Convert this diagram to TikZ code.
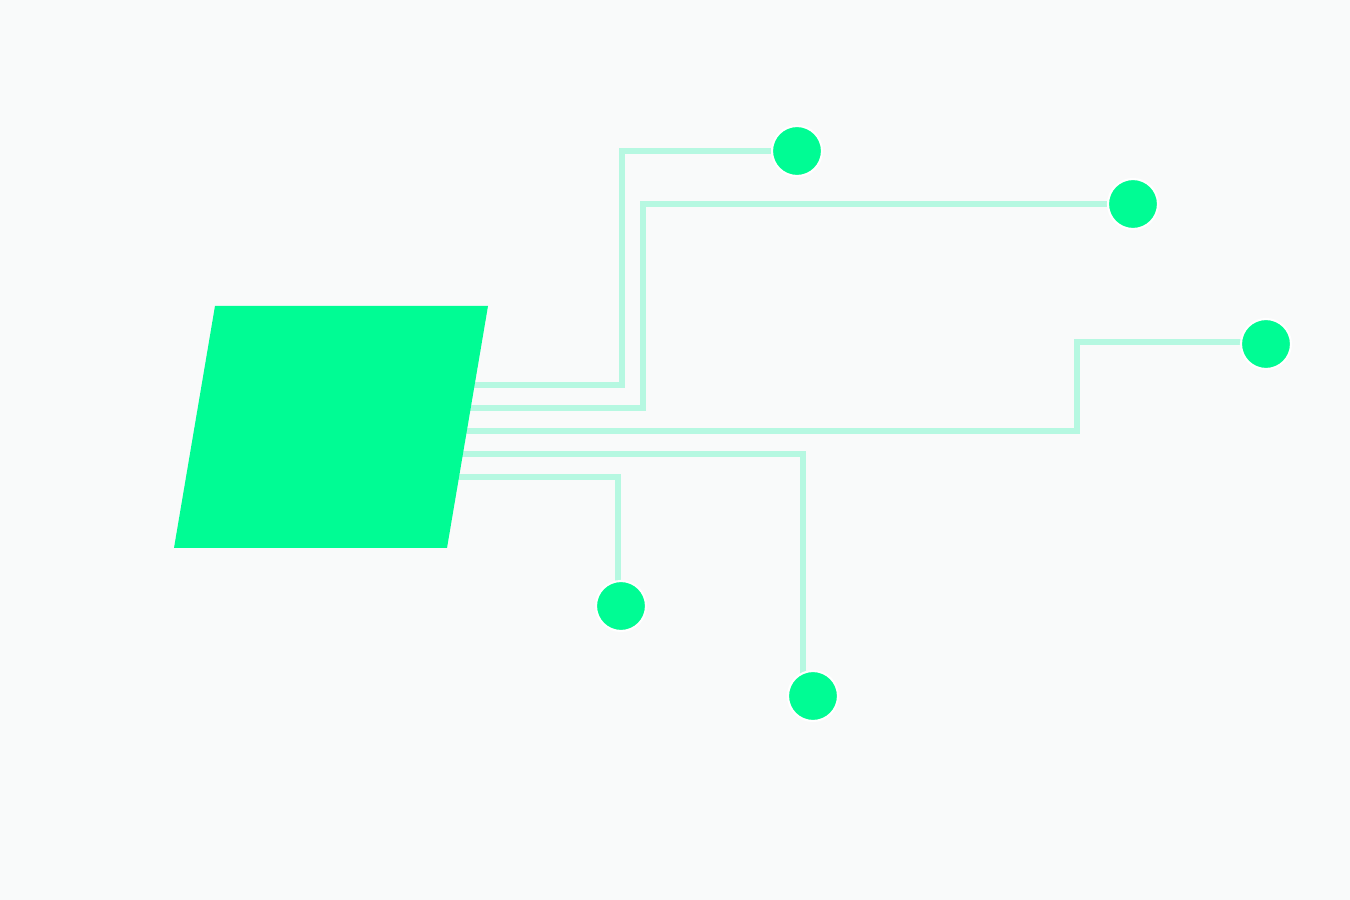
\documentclass[tikz,border=0pt]{standalone}
\usepackage{tikz}
\usepackage{tikz-network}
\usetikzlibrary{backgrounds}

\definecolor{paper}{HTML}{F9FAFA}
\definecolor{mint}{HTML}{00FC94}
\definecolor{trace}{HTML}{B6F8E1}

\begin{document}
\begin{tikzpicture}[trace line/.style={draw=trace,line width=0.055cm}]
         \SetVertexStyle[LineColor=white,LineWidth=0.6pt]
         \Vertex[x=7.97,y=7.49,size=.5,color=mint,opacity=1,NoLabel]{c1}
         \Vertex[x=11.33,y=6.96,size=.5,color=mint,opacity=1,NoLabel]{c2}
         \Vertex[x=12.66,y=5.56,size=.5,color=mint,opacity=1,NoLabel]{c3}
         \Vertex[x=8.13,y=2.04,size=.5,color=mint,opacity=1,NoLabel]{c4}
         \Vertex[x=6.21,y=2.94,size=.5,color=mint,opacity=1,NoLabel]{c5}

         \coordinate (s1) at (4.4,5.15);
         \coordinate (s2) at (4.4,4.92);
         \coordinate (s3) at (4.3,4.69);
         \coordinate (s4) at (4.3,4.46);
         \coordinate (s5) at (4.2,4.23);
         \coordinate (b1) at (6.22,7.49);
         \coordinate (b2) at (6.43,6.96);
         \coordinate (b3) at (10.77,5.58);

         \begin{scope}[on background layer]
         \fill[paper] (0,0) rectangle (13.5,9);
         \draw[trace line] (s1) -| (b1) -- (c1);
         \draw[trace line] (s2) -| (b2) -- (c2);
         \draw[trace line] (s3) -| (b3) -- (b3 -| c3);
         \draw[trace line] (s4) -| ([xshift=-1mm]c4.center);
         \draw[trace line] (s5) -| ([xshift=-.3mm]c5.center);
         \end{scope}

         \fill[mint] (2.15,5.94) -- (4.88,5.94) -- (4.47,3.52) -- (1.74,3.52) -- cycle;
      \end{tikzpicture}
\end{document}
